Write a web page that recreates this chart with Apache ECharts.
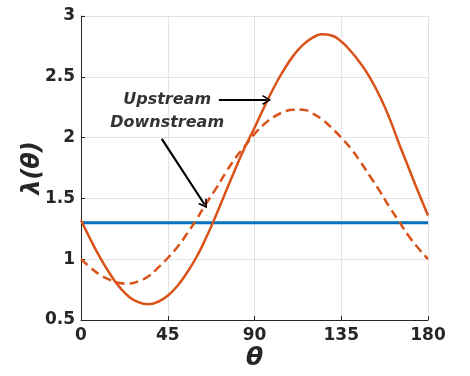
<!DOCTYPE html>
<html>
<head>
<meta charset="utf-8">
<script src="https://cdn.jsdelivr.net/npm/echarts@6/dist/echarts.min.js"></script>
<style>
  html, body { margin: 0; padding: 0; background: #fff; }
  #chart { width: 470px; height: 376px; }
</style>
</head>
<body>
<div id="chart"></div>
<script>
  // angle samples (degrees)
  var theta = [0, 5, 10, 15, 20, 25, 30, 35, 40, 45, 50, 55, 60, 65, 70, 75, 80, 85, 90,
               95, 100, 105, 110, 115, 120, 125, 130, 135, 140, 145, 150, 155, 160, 165, 170, 175, 180];
  // solid orange curve
  var upstream = [1.32, 1.16, 1.01, 0.88, 0.77, 0.69, 0.645, 0.63, 0.65, 0.70, 0.78, 0.89, 1.02, 1.18, 1.36, 1.55, 1.74, 1.92, 2.08,
                  2.25, 2.41, 2.55, 2.67, 2.76, 2.82, 2.85, 2.84, 2.79, 2.71, 2.61, 2.49, 2.34, 2.16, 1.95, 1.75, 1.55, 1.36];
  // dashed orange curve
  var downstream = [1.00, 0.93, 0.87, 0.83, 0.805, 0.80, 0.82, 0.86, 0.93, 1.01, 1.10, 1.21, 1.33, 1.46, 1.58, 1.71, 1.83, 1.93, 2.03,
                    2.11, 2.17, 2.21, 2.23, 2.23, 2.20, 2.15, 2.08, 2.00, 1.91, 1.80, 1.68, 1.56, 1.43, 1.31, 1.19, 1.09, 1.00];
  // flat blue line
  var flatTheta = [0, 180];
  var flatValue = [1.3, 1.3];

  var xTicks = [0, 45, 90, 135, 180];
  var yTicks = [0.5, 1, 1.5, 2, 2.5, 3];

  // annotations (data coords)
  var labelNames = ['Upstream', 'Downstream'];
  var labelTheta = [44.7, 44.7];
  var labelValue = [2.31, 2.12];
  var arrowUp = [[71.5, 2.31], [96.3, 2.31]];
  var arrowDown = [[41.9, 1.99], [64.1, 1.45]];

  var orange = '#D95319';
  var blue = '#0072BD';
  var txt = '#262626';

  function pairs(xs, ys) {
    return xs.map(function (x, i) { return [x, ys[i]]; });
  }

  var chart = echarts.init(document.getElementById('chart'));
  chart.setOption({
    animation: false,
    grid: { left: 81, right: 42, top: 16, bottom: 56 },
    xAxis: {
      type: 'value', min: xTicks[0], max: xTicks[xTicks.length - 1], interval: 45,
      name: 'θ', nameLocation: 'middle', nameGap: 26, nameMoveOverlap: false,
      nameTextStyle: { fontFamily: 'DejaVu Sans', fontSize: 25, fontWeight: 'bold', fontStyle: 'italic', color: txt },
      axisLine: { lineStyle: { color: txt, width: 1 } },
      axisTick: { inside: true, length: 4, lineStyle: { color: txt } },
      axisLabel: { margin: 7, fontFamily: 'DejaVu Sans', fontSize: 17, fontWeight: 'bold', color: txt },
      splitLine: { show: true, lineStyle: { color: '#e3e3e3', width: 1 } }
    },
    yAxis: {
      type: 'value', min: yTicks[0], max: yTicks[yTicks.length - 1], interval: 0.5,
      name: 'λ(θ)', nameLocation: 'middle', nameGap: 36, nameMoveOverlap: false,
      nameTextStyle: { fontFamily: 'DejaVu Sans', fontSize: 24, fontWeight: 'bold', fontStyle: 'italic', color: txt },
      axisLine: { show: true, lineStyle: { color: txt, width: 1 } },
      axisTick: { show: true, inside: true, length: 4, lineStyle: { color: txt } },
      axisLabel: { margin: 6, fontFamily: 'DejaVu Sans', fontSize: 17, fontWeight: 'bold', color: txt,
        formatter: function (v) { return String(v); } },
      splitLine: { show: true, lineStyle: { color: '#e3e3e3', width: 1 } }
    },
    series: [
      {
        type: 'line', data: pairs(flatTheta, flatValue), symbol: 'none',
        lineStyle: { color: blue, width: 3 }
      },
      {
        type: 'line', data: pairs(theta, downstream), symbol: 'none', smooth: 0.5,
        lineStyle: { color: orange, width: 2.5, type: [9, 5] }
      },
      {
        type: 'line', data: pairs(theta, upstream), symbol: 'none', smooth: 0.5,
        lineStyle: { color: orange, width: 2.5 },
        markLine: {
          silent: true, animation: false,
          symbol: ['none', 'path://M0,10 L5,0 L10,10 L8.6,11 L5,3.6 L1.4,11 Z'],
          symbolSize: [10, 9],
          label: { show: false },
          lineStyle: { color: '#000', width: 2.2, type: 'solid' },
          data: [
            [{ coord: arrowUp[0] }, { coord: arrowUp[1] }],
            [{ coord: arrowDown[0] }, { coord: arrowDown[1] }]
          ]
        }
      },
      {
        type: 'scatter', symbolSize: 0, silent: true,
        data: labelNames.map(function (n, i) { return { name: n, value: [labelTheta[i], labelValue[i]] }; }),
        label: {
          show: true, position: 'inside', formatter: '{b}',
          fontFamily: 'DejaVu Sans', fontSize: 16, fontWeight: 'bold', fontStyle: 'italic', color: '#000'
        }
      }
    ]
  });
</script>
</body>
</html>
